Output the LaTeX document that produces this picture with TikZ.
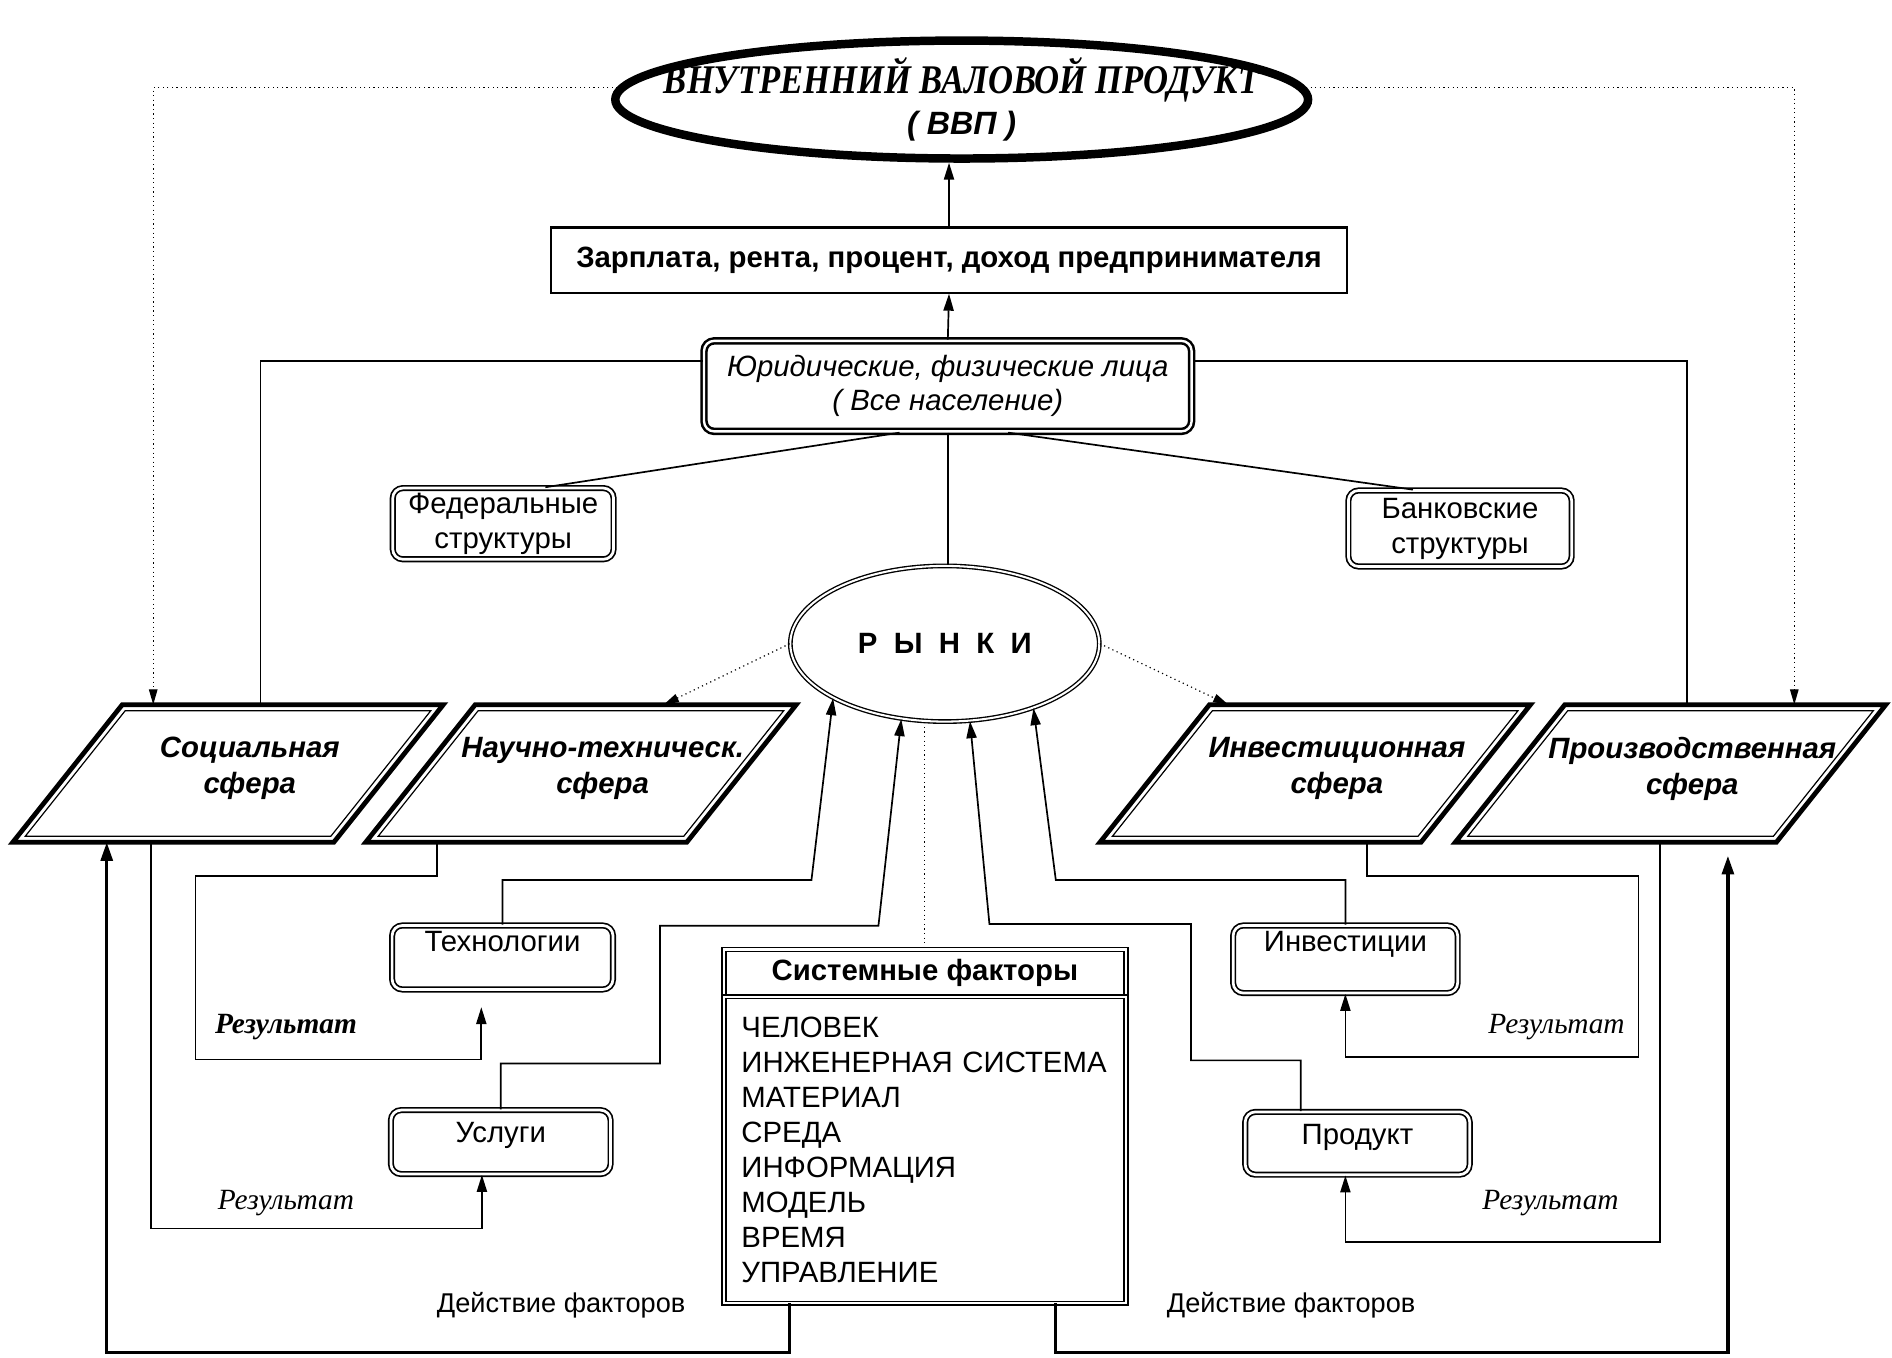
\documentclass[tikz,border=0pt]{standalone}
\usepackage{fontspec}
\setmainfont{Liberation Sans}
\newfontfamily\serifcyr{Liberation Serif}
\newfontfamily\titlecyr[FakeStretch=0.85]{Liberation Serif}
\usetikzlibrary{arrows.meta,positioning,shapes.geometric}

\begin{document}
\begin{tikzpicture}[x=0.025cm, y=-0.025cm,
  font=\fontsize{17.3}{20.6}\selectfont,
  conn/.style={line width=1pt},
  arr/.style={line width=1pt, -{Triangle[length=10pt,width=6pt]}},
  dots/.style={line width=0.7pt, dotted},
  dotarr/.style={dots, -{Triangle[length=9pt,width=5pt]}},
  factor/.style={line width=2pt, -{Triangle[length=11pt,width=7pt]}},
  rbox/.style={draw, rounded corners=6pt, line width=1pt, double, double distance=1.6pt, inner sep=0pt, align=center},
  sysbox/.style={draw, line width=0.9pt, double, double distance=1.4pt, outer sep=0pt, inner sep=0pt},
  sphere/.style={minimum width=6.65cm, minimum height=2.85cm, inner sep=0pt, outer sep=0pt,
    label={[spheretext]center:{#1}}},
  spheretext/.style={align=center, xshift=0.45cm, yshift=0.1cm,
    font=\fontsize{17.3}{21.3}\selectfont\bfseries\itshape},
  outerline/.style={line width=2.8pt},
  innerline/.style={line width=0.7pt},
  result/.style={font=\fontsize{17.3}{20.6}\selectfont\serifcyr\itshape},
  action/.style={font=\fontsize{16}{19}\selectfont},
]
\useasboundingbox (0,0) rectangle (1568,1125);
% top
\node[draw, ellipse, line width=5pt, minimum width=14.35cm, minimum height=2.3cm,
  inner sep=0pt, align=center, font=\fontsize{20}{24}\selectfont] (gdp) at (797,82.5)
  {\makebox[0pt]{\titlecyr\bfseries\itshape\fontsize{24}{24}\selectfont ВНУТРЕННИЙ ВАЛОВОЙ ПРОДУКТ}\\
   \makebox[0pt]{\bfseries\itshape\fontsize{19}{24}\selectfont ( ВВП )}};
\node[draw, line width=1.3pt, minimum width=16.5cm, minimum height=1.35cm, inner sep=0pt,
  font=\fontsize{17.3}{20.6}\selectfont\bfseries] (wage) at (786.5,215.5)
  {Зарплата, рента, процент, доход предпринимателя};
\node[rbox, line width=1.5pt, double distance=1.4pt, minimum width=10.1cm, minimum height=1.875cm,
  font=\fontsize{17.3}{20}\selectfont\itshape] (persons) at (785.5,320)
  {Юридические, физические лица\\( Все население)};
\node[rbox, minimum width=4.575cm, minimum height=1.475cm] (fed) at (417,434) {Федеральные\\структуры};
\node[rbox, minimum width=4.625cm, minimum height=1.575cm] (bank) at (1210,438) {Банковские\\структуры};
\node[draw, ellipse, line width=0.8pt, double, double distance=1.2pt, minimum width=6.4cm,
  minimum height=3.225cm, inner sep=0pt, font=\fontsize{17.3}{20.6}\selectfont\bfseries] (market) at (783,533.5)
  {Р~~Ы~~Н~~К~~И};
% spheres
\node[sphere={Социальная\\сфера}] (soc) at (189,641) {};
\node[sphere={Научно-техническ.\\сфера}] (sci) at (481.5,641) {};
\node[sphere={Инвестиционная\\сфера}] (inv) at (1090,641) {};
\node[sphere={Производственная\\сфера}] (prod) at (1384.5,641) {};
\draw[outerline] ([xshift=1.134cm]soc.north west) -- ([xshift=1.134cm]soc.north east) -- ([xshift=-1.134cm]soc.south east) -- ([xshift=-1.134cm]soc.south west) -- cycle;
\draw[innerline] ([xshift=1.195cm,yshift=-0.125cm]soc.north west) -- ([xshift=0.875cm,yshift=-0.125cm]soc.north east) -- ([xshift=-1.195cm,yshift=0.125cm]soc.south east) -- ([xshift=-0.875cm,yshift=0.125cm]soc.south west) -- cycle;
\draw[outerline] ([xshift=1.134cm]sci.north west) -- ([xshift=1.134cm]sci.north east) -- ([xshift=-1.134cm]sci.south east) -- ([xshift=-1.134cm]sci.south west) -- cycle;
\draw[innerline] ([xshift=1.195cm,yshift=-0.125cm]sci.north west) -- ([xshift=0.875cm,yshift=-0.125cm]sci.north east) -- ([xshift=-1.195cm,yshift=0.125cm]sci.south east) -- ([xshift=-0.875cm,yshift=0.125cm]sci.south west) -- cycle;
\draw[outerline] ([xshift=1.134cm]inv.north west) -- ([xshift=1.134cm]inv.north east) -- ([xshift=-1.134cm]inv.south east) -- ([xshift=-1.134cm]inv.south west) -- cycle;
\draw[innerline] ([xshift=1.195cm,yshift=-0.125cm]inv.north west) -- ([xshift=0.875cm,yshift=-0.125cm]inv.north east) -- ([xshift=-1.195cm,yshift=0.125cm]inv.south east) -- ([xshift=-0.875cm,yshift=0.125cm]inv.south west) -- cycle;
\draw[outerline] ([xshift=1.134cm]prod.north west) -- ([xshift=1.134cm]prod.north east) -- ([xshift=-1.134cm]prod.south east) -- ([xshift=-1.134cm]prod.south west) -- cycle;
\draw[innerline] ([xshift=1.195cm,yshift=-0.125cm]prod.north west) -- ([xshift=0.875cm,yshift=-0.125cm]prod.north east) -- ([xshift=-1.195cm,yshift=0.125cm]prod.south east) -- ([xshift=-0.875cm,yshift=0.125cm]prod.south west) -- cycle;
% small boxes
\node[rbox, minimum width=4.575cm, minimum height=1.325cm, text height=0.45cm, text depth=0.685cm] (tech) at (416.5,793.5) {Технологии};
\node[rbox, minimum width=4.55cm, minimum height=1.325cm, text height=0.45cm, text depth=0.435cm] (serv) at (415,946.5) {Услуги};
\node[rbox, minimum width=4.65cm, minimum height=1.4cm, text height=0.45cm, text depth=0.76cm] (invest) at (1115,795) {Инвестиции};
\node[rbox, minimum width=4.65cm, minimum height=1.3cm, text height=0.45cm, text depth=0.385cm] (product) at (1125,947.5) {Продукт};
% system factors
\node[sysbox, anchor=north, minimum width=8.325cm, minimum height=0.975cm,
  font=\fontsize{17.3}{20.6}\selectfont\bfseries] (syshead) at (766.5,787) {Системные факторы};
\node[sysbox, anchor=north, minimum width=8.325cm, minimum height=6.35cm, text width=7.6cm,
  inner xsep=0.3625cm, align=left] (syslist) at (syshead.south)
  {ЧЕЛОВЕК\\ИНЖЕНЕРНАЯ СИСТЕМА\\МАТЕРИАЛ\\СРЕДА\\ИНФОРМАЦИЯ\\МОДЕЛЬ\\ВРЕМЯ\\УПРАВЛЕНИЕ};
% labels
\node[result] (res-tech) at (237,851) {\bfseries Результат};
\node[result] (res-serv) at (237,997) {Результат};
\node[result] (res-invest) at (1290,851) {Результат};
\node[result] (res-product) at (1285,997) {Результат};
\node[action] (act-left) at (465,1082) {Действие факторов};
\node[action] (act-right) at (1070,1082) {Действие факторов};

% upwards to gdp
\draw[arr] (wage.north) -- (wage.north |- gdp.south);
\draw[arr] (persons.north) -- (wage.south);
\draw[dotarr] (gdp.178) -| ([xshift=-1.55cm]soc.north);
\draw[dotarr] (gdp.2) -| ([xshift=2.5625cm]prod.north);
% persons
\draw[conn] ([yshift=0.525cm]persons.west) -| ([xshift=0.675cm]soc.north);
\draw[conn] ([yshift=0.525cm]persons.east) -| ([xshift=0.3375cm]prod.north);
\draw[conn] ([xshift=-1cm]persons.south) -- ([xshift=0.875cm]fed.north);
\draw[conn] ([xshift=1.25cm]persons.south) -- ([xshift=-0.975cm]bank.north);
\draw[conn] (persons.south) -- (persons.south |- market.north);
% market
\draw[dotarr] (market.west) -- ([xshift=1.7125cm]sci.north);
\draw[dotarr] (market.east) -- ([xshift=-1.8cm]inv.north);
\draw[dots] (syshead.north |- market.south) -- (syshead.north);
\draw[arr] (tech.north) -- ++(0,-37) -- ++(256,0) -- (market.206);
\draw[arr] (serv.north) -- ++(0,-38) -- ++(132,0) -- ++(0,-114) -- ++(181,0) -- (market.240);
\draw[arr] ([xshift=-1.175cm]product.north) -- ++(0,-42) -- ++(-91,0) -- ++(0,-113) -- ++(-167,0) -- (market.288);
\draw[arr] (invest.north) -- ++(0,-37) -- ++(-240,0) -- (market.324);
% results
\draw[arr] ([xshift=-1.6cm]soc.south) -- ++(0,320) -| ([xshift=-0.39cm]serv.south);
\draw[arr] ([xshift=-2.9875cm]sci.south) -- ++(0,28) -- ++(-200,0) -- ++(0,152)
  -| ([xshift=-0.44cm,yshift=-0.35cm]tech.south);
\draw[arr] ([xshift=1.075cm]inv.south) -- ++(0,28) -- ++(225,0) -- ++(0,150) -| (invest.south);
\draw[arr] ([xshift=-0.2125cm]prod.south) -- ++(0,331) -| ([xshift=-0.25cm]product.south);
% factors
\draw[factor] ([xshift=-2.8cm]syslist.south) -- ++(0,41) -| ([xshift=-2.5125cm]soc.south);
\draw[factor] ([xshift=2.7cm]syslist.south) -- ++(0,41) -| ([xshift=1.1875cm,yshift=-0.28cm]prod.south);
\end{tikzpicture}
\end{document}
